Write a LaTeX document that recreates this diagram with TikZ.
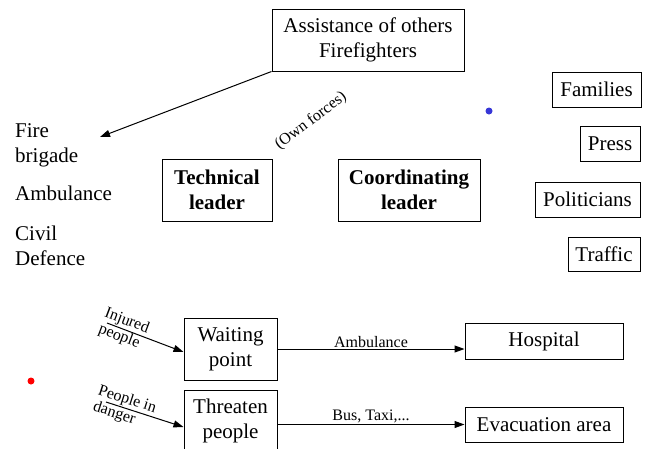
\documentclass[tikz,border=0pt]{standalone}
\usepackage{fontspec}
\setmainfont{Liberation Serif}[Ligatures=TeX]
\newfontfamily\timesfont{Liberation Serif}
\usetikzlibrary{arrows.meta}
\definecolor{dotblue}{RGB}{55,55,215}

\tikzstyle{box} = [draw, line width=1pt, align=center, inner sep=0pt, font=\timesfont\fontsize{21}{25}\selectfont]
\tikzstyle{plain} = [align=left, inner sep=0pt, font=\timesfont\fontsize{21}{25}\selectfont]
\tikzstyle{small} = [font=\timesfont\fontsize{16}{17}\selectfont]
\tikzstyle{arrow} = [-{Triangle[length=10pt,width=7pt]}, line width=1pt]
\tikzstyle{dot} = [circle, inner sep=0pt, minimum size=7pt]

\begin{document}
\begin{tikzpicture}[x=1pt,y=-1pt]
	\useasboundingbox (0,0) rectangle (645,448);
	\clip (0,0) rectangle (645,448);

	\node[box, minimum width=192pt, minimum height=62pt] (assist) at (368,40) {Assistance of others\\Firefighters};
	\node[box, minimum width=110pt, minimum height=62pt, font=\timesfont\fontsize{21}{25}\selectfont\bfseries] (tech) at (217,190) {Technical\\leader};
	\node[box, minimum width=142pt, minimum height=62pt, font=\timesfont\fontsize{21}{25}\selectfont\bfseries] (coord) at (409,190) {Coordinating\\leader};
	\node[small, rotate=37] (own) at (311,121) {(Own forces)};

	\node[plain, anchor=west] (fire) at (15,145) {Fire\\brigade};
	\node[plain, anchor=west] (amb) at (15,193) {Ambulance};
	\node[plain, anchor=west] (civil) at (15,246) {Civil\\Defence};
	\coordinate (fireend) at (100,137);

	\node[box, minimum width=89pt, minimum height=35pt] (families) at (596.5,89.5) {Families};
	\node[box, minimum width=60pt, minimum height=35pt] (press) at (610,143.5) {Press};
	\node[box, minimum width=105pt, minimum height=35pt] (politicians) at (587.5,199.5) {Politicians};
	\node[box, minimum width=72pt, minimum height=34pt] (traffic) at (604,254) {Traffic};

	\node[dot, fill=dotblue] (bluedot) at (489,111) {};
	\node[dot, fill=red] (reddot) at (31,381) {};

	\node[box, minimum width=93pt, minimum height=62pt] (waiting) at (230.5,349) {Waiting\\point};
	\node[box, minimum width=93pt, minimum height=62pt] (threaten) at (230.5,421) {Threaten\\people};
	\node[box, minimum width=158pt, minimum height=36pt] (hospital) at (544,341) {Hospital};
	\node[box, minimum width=158pt, minimum height=35pt] (evac) at (544,424.5) {Evacuation area};
	\coordinate (injured) at (107,323);
	\coordinate (danger) at (106,402);

	\draw[arrow] (assist.south west) -- (fireend);
	\draw[arrow] (injured) -- node[small, sloped, pos=0.22, align=left, inner sep=0pt] {Injured\\people} ([yshift=-3pt]waiting.west);
	\draw[arrow] (danger) -- node[small, sloped, pos=0.24, align=left, inner sep=0pt] {People in\\danger} ([yshift=-6pt]threaten.west);
	\draw[arrow] (waiting.east) -- node[small, above, inner sep=1pt] {Ambulance} (waiting.east -| hospital.west);
	\draw[arrow] (threaten.east |- evac.west) -- node[small, above, inner sep=1pt] {Bus, Taxi,...} (evac.west);
\end{tikzpicture}
\end{document}
